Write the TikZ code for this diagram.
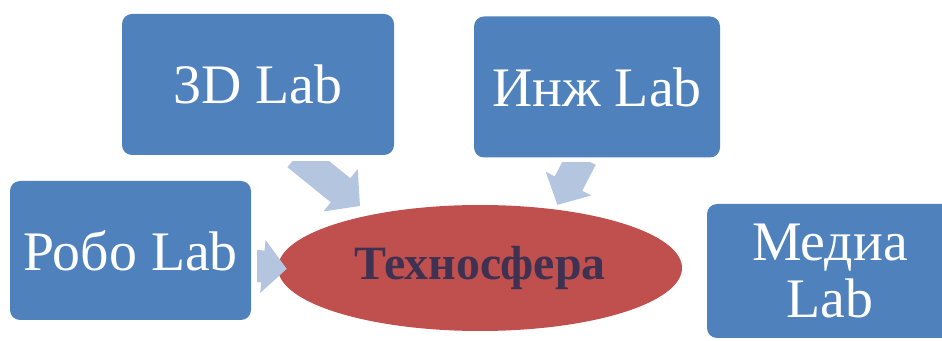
\documentclass[tikz,border=0pt]{standalone}
\usepackage{fontspec}
\setmainfont{Liberation Serif}
\usepackage{tikz}
\usetikzlibrary{arrows.meta,shapes.geometric}

\definecolor{labfill}{HTML}{4F81BD}
\definecolor{techfill}{HTML}{C0504D}
\definecolor{techtext}{HTML}{3F3151}
\definecolor{pointer}{HTML}{B4C5E0}

\tikzset{
  labbox/.style={rectangle,rounded corners=10bp,fill=labfill,text=white,
    inner sep=0pt,align=center,font=\fontsize{56}{57}\selectfont},
  techoval/.style={ellipse,fill=techfill,text=techtext,inner sep=0pt,
    minimum width=404bp,minimum height=126bp,font=\fontsize{48}{50}\selectfont\bfseries},
  feed/.style={draw=pointer,line cap=butt,line width=31bp,
    -{Triangle[width=53bp,length=25bp,fill=pointer,color=pointer]}},
}

\begin{document}
\begin{tikzpicture}[>=latex,line join=bevel,]
  \useasboundingbox (0bp,0bp) rectangle (942bp,341bp);
%%
  % Node: d3
  \node[labbox,minimum width=272bp,minimum height=141bp] (d3) at (258bp,256.5bp) {3D Lab};
  % Node: inzh
  \node[labbox,minimum width=246bp,minimum height=141bp] (inzh) at (597bp,254bp) {Инж Lab};
  % Node: robo
  \node[labbox,minimum width=241bp,minimum height=139bp] (robo) at (130.5bp,90.5bp) {Робо Lab};
  % Node: media
  \node[labbox,minimum width=246bp,minimum height=134bp] (media) at (830bp,70bp) {Медиа\\Lab};
  % Node: tech
  \node[techoval] (tech) at (480bp,73bp) {Техносфера};
%%
  % Edge: d3 -> tech
  \begin{scope}
    \clip (0bp,0bp) rectangle (942bp,179.5bp);
    \draw [feed,shorten >=14bp] (d3.-61) -- (tech.154);
  \end{scope}
  % Edge: inzh -> tech
  \begin{scope}
    \clip (0bp,0bp) rectangle (942bp,178bp);
    \draw [feed,line width=31bp,shorten >=5bp,
      -{Triangle[width=50bp,length=24bp,fill=pointer,color=pointer]}] (inzh.-102) -- (tech.38);
  \end{scope}
  % Edge: robo -> tech
  \begin{scope}
    \clip (257bp,0bp) rectangle (942bp,341bp);
    \draw [feed,line width=32bp,shorten >=-9bp,
      -{Triangle[width=52bp,length=24bp,fill=pointer,color=pointer]}] (robo.-7) -- (tech.west);
  \end{scope}
%
\end{tikzpicture}
\end{document}
